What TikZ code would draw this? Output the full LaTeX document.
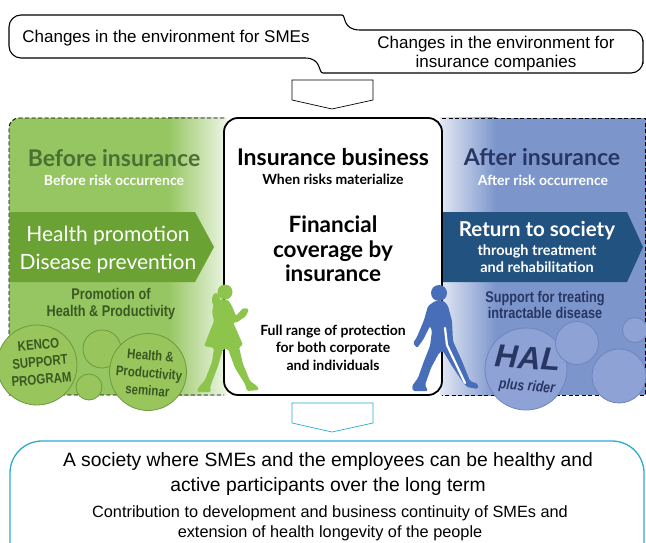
\documentclass[tikz,border=0pt]{standalone}
\usepackage{fontspec}
\setmainfont{Liberation Sans}
\newfontfamily\titlefont{Lato}
\newfontfamily\narrowfont[FakeStretch=0.82]{Liberation Sans}

\definecolor{panelgreen}{RGB}{150,198,98}
\definecolor{bannergreen}{RGB}{106,163,52}
\definecolor{titlegreen}{RGB}{75,112,51}
\definecolor{notegreen}{RGB}{58,88,34}
\definecolor{bubblegreen}{RGB}{152,198,92}
\definecolor{bubblegreenline}{RGB}{112,152,62}
\definecolor{walkgreen}{RGB}{140,196,76}
\definecolor{panelblue}{RGB}{124,150,204}
\definecolor{bannerblue}{RGB}{34,82,128}
\definecolor{navy}{RGB}{40,54,100}
\definecolor{bubbleblue}{RGB}{142,162,214}
\definecolor{bubblebluelin}{RGB}{112,132,192}
\definecolor{walkblue}{RGB}{72,110,186}
\definecolor{cyanline}{RGB}{40,172,210}

\tikzset{
  topnote/.style={font=\fontsize{17}{19}\selectfont, align=center, inner sep=0},
  paneltitle/.style={font=\titlefont\bfseries\fontsize{23}{25}\selectfont, inner sep=0},
  panelsub/.style={font=\titlefont\bfseries\fontsize{14}{15}\selectfont, text=white, inner sep=0},
  bannertext/.style={font=\titlefont\fontsize{21}{28}\selectfont, text=white, align=center, inner sep=0},
  sidenote/.style={font=\narrowfont\bfseries\fontsize{15.5}{16.5}\selectfont, align=center, inner sep=0},
  greenbubble/.style={circle, draw=bubblegreenline, fill=bubblegreen, line width=0.8, inner sep=0},
  bluebubble/.style={circle, draw=bubblebluelin, fill=bubbleblue, line width=0.8, inner sep=0},
  bubbletext/.style={font=\narrowfont\bfseries\fontsize{14}{17.5}\selectfont, align=center, inner sep=0},
  centretext/.style={font=\titlefont\bfseries\fontsize{14}{17.5}\selectfont, align=center, inner sep=0},
  panelborder/.style={line width=0.9, dash pattern=on 4pt off 2.5pt},
  downarrow/.style={fill=white, line width=0.7, line join=miter},
  bottomtext/.style={font=\fontsize{19.3}{25}\selectfont, align=center, inner sep=0},
}

\begin{document}
\begin{tikzpicture}[x=1pt, y=-1pt]
\clip (0,0) rectangle (646,543);

% Pannelli laterali
\fill[panelgreen] (226,118) -- (19,118) .. controls (13.5,118) and (9,122.5) .. (9,128) -- (9,395) -- (226,395) -- cycle;
\shade[left color=panelgreen, right color=panelgreen!18] (168,118) rectangle (226,395);
\fill[panelblue] (440,118) rectangle (646,395);
\shade[left color=panelblue!22, right color=panelblue] (440,118) rectangle (496,395);

\draw[panelborder] (224,118) -- (19,118) .. controls (13.5,118) and (9,122.5) .. (9,128) -- (9,395) -- (224,395);
\draw[panelborder] (442,118) -- (645,118) -- (645,395) -- (442,395);

% Frecce colorate
\fill[bannergreen] (10,212) -- (195,212) -- (214,247) -- (195,282) -- (10,282) -- cycle;
\fill[bannerblue] (442,212) -- (627,212) -- (643,247) -- (627,282) -- (442,282) -- cycle;

% Prima dell'assicurazione
\node[paneltitle, text=titlegreen] (before) at (114,158) {Before insurance};
\node[panelsub] (beforesub) at (114,180) {Before risk occurrence};
\node[bannertext] (health) at (108,250) {Health promotion\\Disease prevention};
\node[sidenote, text=notegreen] (promo) at (111,304) {Promotion of\\Health \& Productivity};

% Dopo l'assicurazione
\node[paneltitle, text=navy] (after) at (542,157) {After insurance};
\node[panelsub] (aftersub) at (543,180) {After risk occurrence};
\node[font=\titlefont\bfseries\fontsize{20.5}{24}\selectfont, text=white, inner sep=0] (return) at (537,231) {Return to society};
\node[font=\titlefont\bfseries\fontsize{14.5}{17}\selectfont, text=white, align=center, inner sep=0] (rehab) at (537,259) {through treatment\\and rehabilitation};
\node[sidenote, text=navy] (support) at (545,305) {Support for treating\\intractable disease};

% Bolle
\node[greenbubble, minimum size=80] (kenco) at (37,365) {};
\node[greenbubble, minimum size=38] (gb1) at (102,349) {};
\node[greenbubble, minimum size=26] (gb2) at (89,387) {};
\node[greenbubble, minimum size=77] (seminar) at (148,372) {};
\node[bubbletext, text=notegreen, rotate=5] (kencot) at (40,362) {KENCO\\SUPPORT\\PROGRAM};
\node[bubbletext, text=notegreen, rotate=-5] (seminart) at (149,373) {Health \&\\Productivity\\seminar};

\node[bluebubble, minimum size=82] (hal) at (526,369) {};
\node[bluebubble, minimum size=43] (bb1) at (577,343) {};
\node[bluebubble, minimum size=25] (bb2) at (635,330) {};
\node[bluebubble, minimum size=54] (bb3) at (619,376) {};
\node[font=\bfseries\itshape\fontsize{32}{34}\selectfont, text=navy, inner sep=0, rotate=-4] (halt) at (528,358) {HAL};
\node[font=\narrowfont\bfseries\itshape\fontsize{15}{16}\selectfont, text=navy, inner sep=0, rotate=-5] (ridert) at (527,387) {plus rider};

% Riquadro centrale
\node[draw, line width=1.8, rounded corners=14, fill=white, minimum width=218, minimum height=277] (business) at (333,256.5) {};
\node[font=\titlefont\bfseries\fontsize{23}{25}\selectfont, inner sep=0] (insbus) at (333,157) {Insurance business};
\node[centretext] (when) at (333,179) {When risks materialize};
\node[font=\titlefont\bfseries\fontsize{22.5}{24.5}\selectfont, align=center, inner sep=0] (coverage) at (333,249) {Financial\\coverage by\\insurance};
\node[centretext] (fullrange) at (333,347.5) {Full range of protection\\for both corporate\\and individuals};

% Figure che camminano
\fill[walkgreen] (225,292) circle[radius=7.5];
\fill[walkgreen, rounded corners=1.5] (221,299) -- (214,303) -- (212,312) -- (214,321) -- (204,346) -- (214,348)
  -- (212,362) -- (205,380) -- (198,388) -- (197,392) -- (211,392) -- (210,387) -- (218,366) -- (223,349)
  -- (228,349) -- (235,368) -- (245,384) -- (247,391) -- (259,390) -- (257,386) -- (250,381) -- (243,364) -- (239,347)
  -- (243,345) -- (233,322) -- (236,323) -- (246,316) -- (249,309) -- (243,308) -- (236,316) -- (232,306) -- (228,300) -- cycle;
\fill[walkgreen] (216,300) ellipse[x radius=4, y radius=7];

\fill[walkblue] (439,293) circle[radius=8];
\fill[walkblue, rounded corners=1.5] (435,301) -- (428,306) -- (424,320) -- (417,337) -- (413,343) -- (417,348) -- (423,340)
  -- (430,326) -- (432,331) -- (430,346) -- (424,361) -- (418,378) -- (412,386) -- (413,391) -- (428,391) -- (425,385)
  -- (431,368) -- (439,353) -- (443,351) -- (452,366) -- (462,381) -- (467,387) -- (478,389) -- (478,384) -- (470,381)
  -- (462,361) -- (453,341) -- (452,321) -- (448,306) -- (444,301) -- cycle;
\draw[white, line width=2.2, line cap=round, line join=round] (445,328) -- (447,345) -- (456,364) -- (465,383);

% Cambiamenti di contesto
\draw[line width=1.1] (9,40) [rounded corners=12] |- (330,15) [sharp corners] .. controls (346,15) and (342,30) .. (360,30)
  [rounded corners=12] -| (643,52) |- (335,73) [sharp corners] .. controls (318,73) and (322,58) .. (305,58)
  [rounded corners=12] -| (9,40);
\node[topnote] (smes) at (166,38) {Changes in the environment for SMEs};
\node[topnote] (insco) at (496,53.5) {Changes in the environment for\\insurance companies};

\draw[downarrow] (292,80) -- (373,80) -- (373,100) -- (332,109) -- (292,100) -- cycle;
\draw[downarrow, draw=cyanline] (292,403) -- (373,403) -- (373,423) -- (332,432) -- (292,423) -- cycle;

% Obiettivo finale
\draw[cyanline, line width=1.3, rounded corners=32] (10,570) |- (644,441) -- (644,570);
\node[bottomtext] (society) at (328,474.5) {A society where SMEs and the employees can be healthy and\\active participants over the long term};
\node[bottomtext, font=\fontsize{16.3}{20}\selectfont] (contrib) at (330,523) {Contribution to development and business continuity of SMEs and\\extension of health longevity of the people};
\end{tikzpicture}
\end{document}
